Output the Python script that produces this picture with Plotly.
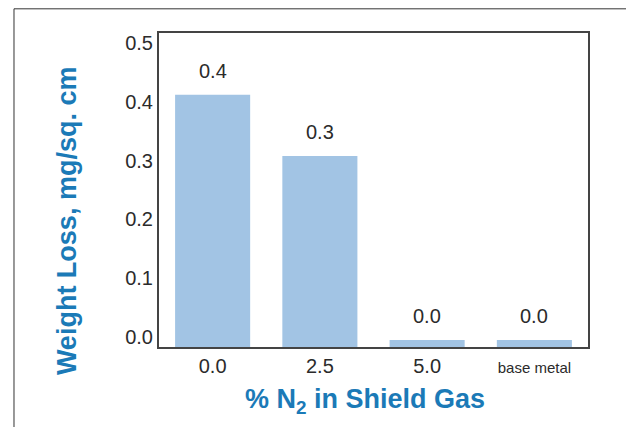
import plotly.graph_objects as go

# % N2 in shield gas vs weight loss
categories = ['0.0', '2.5', '5.0', 'base metal']
weight_loss = [0.429, 0.325, 0.012, 0.012]
y_ticks = [0.0, 0.1, 0.2, 0.3, 0.4, 0.5]

blue = '#1b7ab7'
bar_color = '#a2c4e4'
tick_font = dict(family='Liberation Sans, Arial', size=20, color='#2b2b2b')
title_font = dict(family='Liberation Sans, Arial', size=27, color=blue, weight='bold')

ticktext = [c if c != 'base metal' else '<span style="font-size:15px">base metal</span>'
            for c in categories]

fig = go.Figure()
fig.add_trace(go.Bar(
    x=categories,
    y=weight_loss,
    marker=dict(color=bar_color, line=dict(width=0)),
    hoverinfo='x+y',
))

# value labels above bars (category index as x so numeric-looking names are not parsed)
for i, v in enumerate(weight_loss):
    fig.add_annotation(
        x=i, y=v, text='{:.1f}'.format(v),
        showarrow=False, yanchor='bottom', yshift=11,
        font=tick_font,
    )

# axis titles as annotations (the original sits off-centre)
fig.add_annotation(xref='paper', yref='paper', x=-0.2145, y=0.404,
                   text='Weight Loss, mg/sq. cm', textangle=-90,
                   showarrow=False, xanchor='center', yanchor='middle',
                   font=title_font)
fig.add_annotation(xref='paper', yref='paper', x=0.48, y=-0.172,
                   text='% N<sub>2</sub> in Shield Gas',
                   showarrow=False, xanchor='center', yanchor='middle',
                   font=title_font)

# outer frame
fig.add_shape(type='rect', xref='paper', yref='paper',
              x0=-0.338, x1=1.2, y0=-0.4, y1=1.077,
              line=dict(color='#333333', width=1))

fig.update_layout(
    width=634, height=427,
    margin=dict(l=151, r=54, t=25, b=88),
    paper_bgcolor='white',
    plot_bgcolor='white',
    bargap=0.3,
    showlegend=False,
    font=tick_font,
    xaxis=dict(
        type='category',
        range=[-0.5, len(categories) - 0.5],
        tickvals=categories,
        ticktext=ticktext,
        showline=True, linecolor='#444444', linewidth=2, mirror=True,
        ticks='', showgrid=False,
        tickfont=tick_font,
    ),
    yaxis=dict(
        range=[0, 0.534],
        tickvals=y_ticks,
        ticktext=['{:.1f}'.format(t) for t in y_ticks],
        ticklabelshift=-10,
        showline=True, linecolor='#444444', linewidth=2, mirror=True,
        ticks='', showgrid=False, zeroline=False,
        tickfont=tick_font,
    ),
)

fig.write_html('out.html')
